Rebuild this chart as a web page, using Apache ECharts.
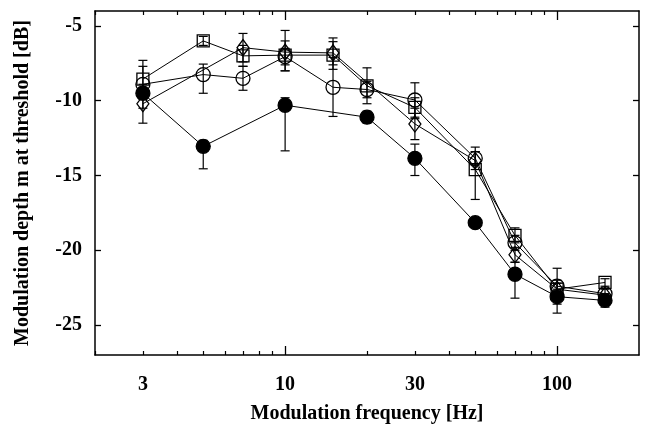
<!DOCTYPE html>
<html><head><meta charset="utf-8">
<script src="https://cdn.jsdelivr.net/npm/echarts@6/dist/echarts.min.js"></script>
<style>html,body{margin:0;padding:0;background:#fff}#c{width:646px;height:425px}</style>
</head><body><div id="c"></div>
<script>
// Modulation frequency (Hz)
const freqSquare  = [3, 5, 7, 10, 15, 20, 30, 50, 70, 100, 150];
const freqCircle  = [3, 5, 7, 10, 15, 20, 30, 50, 70, 100, 150];
const freqDiamond = [3, 7, 10, 15, 30, 50, 70, 100, 150];
const freqFilled  = [3, 5, 10, 20, 30, 50, 70, 100, 150];
// Modulation depth at threshold (dB)
const valSquare  = [-8.55, -6.0, -7.0, -6.95, -6.95, -9.0, -10.45, -14.6, -19.0, -22.6, -22.15];
const valCircle  = [-8.9, -8.25, -8.5, -7.05, -9.1, -9.25, -9.95, -13.85, -19.5, -22.4, -22.9];
const valDiamond = [-10.2, -6.45, -6.75, -6.8, -11.55, -14.0, -20.3, -22.6, -23.0];
const valFilled  = [-9.5, -13.05, -10.3, -11.1, -13.85, -18.15, -21.6, -23.1, -23.35];
// Error bars [low, high] (dB)
const errSquare  = [[-9.4,-7.7],[-6.3,-5.7],[-7.7,-6.3],[-8.0,-6.0],[-7.9,-6.05],[-10.2,-7.8],[-11.2,-9.8],[-16.6,-13.1],[-19.5,-18.5],[-23.0,-22.2],[-22.4,-21.9]];
const errCircle  = [[-10.5,-7.3],[-9.5,-7.55],[-9.3,-7.7],[-7.6,-6.5],[-11.05,-7.1],[-9.8,-8.7],[-11.1,-8.8],[-14.3,-13.4],[-20.0,-19.0],[-22.8,-22.0],null];
const errDiamond = [[-11.5,-8.9],[-7.4,-5.5],[-8.0,-5.3],[-7.6,-5.8],[-12.6,-10.5],[-14.6,-13.4],[-20.8,-19.8],[-24.2,-21.2],[-23.4,-22.6]];
const errFilled  = [[-9.9,-9.1],[-14.55,-12.65],[-13.35,-9.8],[-11.5,-10.7],[-15.0,-12.9],null,[-23.2,-20.8],[-23.6,-22.6],[-23.8,-22.9]];
// Axis ticks / labels
const xMinorTicks = [2,3,4,5,6,7,8,9,20,30,40,50,60,70,80,90];
const xMajorTicks = [10, 100];
const xLabels = [3, 10, 30, 100];
const yTicks = [-25, -20, -15, -10, -5];

const FONT = 'Liberation Serif';
const pairs = (xs, ys) => xs.map((x, i) => [x, ys[i]]);
const errData = [];
[[freqSquare, errSquare], [freqCircle, errCircle], [freqDiamond, errDiamond], [freqFilled, errFilled]].forEach(([xs, es]) => {
  xs.forEach((x, i) => { if (es[i]) errData.push([x, es[i][0], es[i][1]]); });
});

const baseX = (extra) => Object.assign({
  type: 'log', logBase: 10, min: 2, max: 200,
  splitLine: {show: false},
  axisLine: {show: true, lineStyle: {color: '#000', width: 1.5}},
  axisLabel: {show: false},
  axisTick: {show: false},
  minorTick: {show: false}
}, extra);
const baseY = (extra) => Object.assign({
  type: 'value', min: -27, max: -4,
  splitLine: {show: false},
  axisLine: {show: true, lineStyle: {color: '#000', width: 1.5}},
  axisTick: {show: true, inside: true, length: 6, customValues: yTicks, lineStyle: {color: '#000', width: 1.3}},
  axisLabel: {show: false}
}, extra);

const chart = echarts.init(document.getElementById('c'), null, {renderer: 'canvas'});
const lineSeries = (name, xs, ys, symbol, size, filled) => ({
  name, type: 'line', data: pairs(xs, ys), symbol, symbolSize: size, showSymbol: true,
  xAxisIndex: 0, yAxisIndex: 0,
  lineStyle: {color: '#000', width: 1},
  itemStyle: {color: filled ? '#000' : 'rgba(0,0,0,0)', borderColor: '#000', borderWidth: 1.3},
  emphasis: {disabled: true}, z: 3
});
chart.setOption({
  animation: false,
  grid: {left: 95, right: 7, top: 11, bottom: 70, outerBoundsMode: 'none', containLabel: false},
  xAxis: [
    baseX({position: 'bottom',
      axisTick: {show: true, inside: true, length: 4, customValues: xMinorTicks, lineStyle: {color: '#000', width: 1.2}},
      axisLabel: {show: true, customValues: xLabels, margin: 20, color: '#000', fontFamily: FONT, fontWeight: 'bold', fontSize: 20, formatter: v => String(Math.round(v))},
      name: 'Modulation frequency [Hz]', nameLocation: 'middle', nameGap: 49,
      nameTextStyle: {color: '#000', fontFamily: FONT, fontWeight: 'bold', fontSize: 20}
    }),
    baseX({position: 'bottom', axisLine: {show: false},
      axisTick: {show: true, inside: true, length: 9, customValues: xMajorTicks, lineStyle: {color: '#000', width: 1.3}}}),
    baseX({position: 'top',
      axisTick: {show: true, inside: true, length: 4, customValues: xMinorTicks, lineStyle: {color: '#000', width: 1.2}}}),
    baseX({position: 'top', axisLine: {show: false},
      axisTick: {show: true, inside: true, length: 9, customValues: xMajorTicks, lineStyle: {color: '#000', width: 1.3}}})
  ],
  yAxis: [
    baseY({position: 'left',
      axisLabel: {show: true, customValues: yTicks, margin: 13, color: '#000', fontFamily: FONT, fontWeight: 'bold', fontSize: 20},
      name: 'Modulation depth m at threshold [dB]', nameLocation: 'middle', nameGap: 62,
      nameTextStyle: {color: '#000', fontFamily: FONT, fontWeight: 'bold', fontSize: 20}
    }),
    baseY({position: 'right'})
  ],
  series: [
    {
      type: 'custom', xAxisIndex: 0, yAxisIndex: 0, data: errData, z: 2,
      encode: {x: 0, y: [1, 2]},
      renderItem: (params, api) => {
        const x = api.value(0), lo = api.value(1), hi = api.value(2);
        const p1 = api.coord([x, hi]), p2 = api.coord([x, lo]);
        const w = 4.5, st = {stroke: '#000', lineWidth: 1.2};
        return {type: 'group', children: [
          {type: 'line', shape: {x1: p1[0], y1: p1[1], x2: p2[0], y2: p2[1]}, style: st},
          {type: 'line', shape: {x1: p1[0] - w, y1: p1[1], x2: p1[0] + w, y2: p1[1]}, style: st},
          {type: 'line', shape: {x1: p2[0] - w, y1: p2[1], x2: p2[0] + w, y2: p2[1]}, style: st}
        ]};
      }
    },
    lineSeries('square', freqSquare, valSquare, 'rect', 12, false),
    lineSeries('circle', freqCircle, valCircle, 'circle', 14, false),
    lineSeries('diamond', freqDiamond, valDiamond, 'diamond', [12, 16], false),
    lineSeries('filled', freqFilled, valFilled, 'circle', 14, true)
  ]
});
</script>
</body></html>
